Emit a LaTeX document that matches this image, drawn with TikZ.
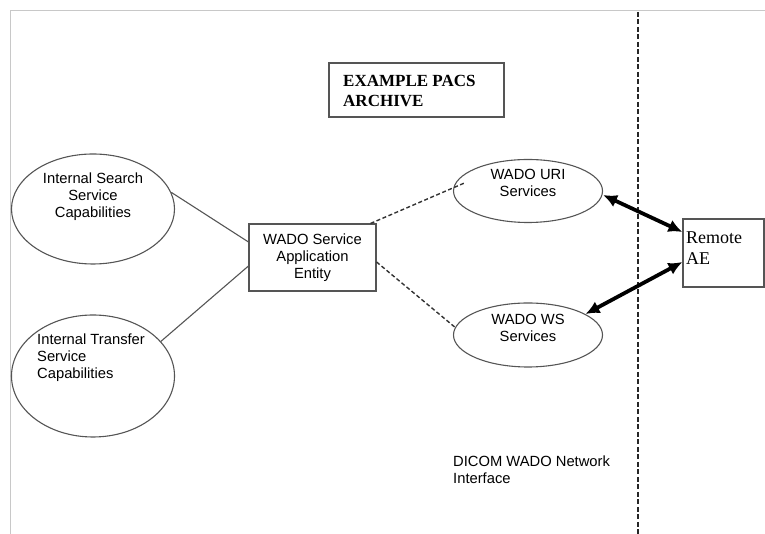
\documentclass[tikz,border=0pt]{standalone}
\usepackage{fontspec}
\setmainfont{Liberation Serif}
\newfontfamily\arialfont{Liberation Sans}
\usetikzlibrary{arrows.meta, positioning, shapes.geometric, calc}

\begin{document}
\begin{tikzpicture}[x=1pt, y=1pt,
  oval/.style={ellipse, draw=linegray, line width=1.1pt, inner sep=0pt},
  box/.style={draw=linegray, line width=1.1pt, inner sep=0pt},
  sanstext/.style={font=\arialfont\fontsize{14.75}{17}\selectfont, align=center, inner sep=0pt},
  solidlink/.style={draw=linegray, line width=1.1pt},
  dashlink/.style={draw=black!80, line width=1.4pt, dash pattern=on 4pt off 2.5pt},
  bigarrow/.style={{Latex[length=14pt,width=13pt]}-{Latex[length=14pt,width=13pt]}, line width=3.8pt}
]
  % Define colors
  \definecolor{linegray}{RGB}{85,85,85}
  \definecolor{framegray}{RGB}{200,200,200}

  \useasboundingbox (0,0) rectangle (765,534);

  % Page frame and network boundary
  \draw[framegray, line width=0.8pt] (765,524) -- (10,524) -- (10,0);
  \draw[black!85, line width=2pt, dash pattern=on 5pt off 2.5pt] (638,522) -- (638,0);

  % Title
  \node[box, minimum width=175, minimum height=54] (title) at (416.5,444) {};
  \node[anchor=west, align=left, inner sep=0pt,
        font=\fontsize{17}{20}\selectfont\bfseries] (titletxt) at (343,442.5) {EXAMPLE PACS\\ARCHIVE};

  % Internal capabilities
  \node[oval, minimum width=163, minimum height=110] (search) at (93,325) {};
  \node[sanstext] (searchtxt) at (93,337) {Internal Search\\Service\\Capabilities};

  \node[oval, minimum width=163, minimum height=122] (transfer) at (93,158) {};
  \node[sanstext, align=left, anchor=west] (transfertxt) at (37,176) {Internal Transfer\\Service\\Capabilities};

  % Application entity
  \node[box, sanstext, minimum width=127, minimum height=67] (wado) at (312.5,276.5) {WADO Service\\Application\\Entity};

  % WADO services
  \node[oval, minimum width=149, minimum height=63] (uri) at (528,343) {};
  \node[sanstext] (uritxt) at (528,351.5) {WADO URI\\Services};

  \node[oval, minimum width=149, minimum height=64] (ws) at (528,199) {};
  \node[sanstext] (wstxt) at (528,206.5) {WADO WS\\Services};

  % Remote AE
  \node[box, minimum width=81, minimum height=68] (remote) at (723.5,281) {};
  \node[anchor=west, align=left, inner sep=0pt,
        font=\fontsize{18}{21}\selectfont] (remotetxt) at (686,286) {Remote\\AE};

  % Interface label
  \node[sanstext, align=left, anchor=west] (ifacetxt) at (453,64) {DICOM WADO Network\\Interface};

  % Links
  \draw[solidlink] (search.12) -- ([yshift=15.5]wado.west);
  \draw[solidlink] (transfer.27) -- ([yshift=-8.5]wado.west);
  \draw[dashlink] ([xshift=-6]wado.north east) -- ([shift={(11.5,8)}]uri.west);
  \draw[dashlink] ([yshift=-4.5]wado.east) -- (ws.174);
  \draw[bigarrow] ([yshift=-4]uri.east) -- ([yshift=21]remote.west);
  \draw[bigarrow] (ws.20) -- ([yshift=-9]remote.west);

\end{tikzpicture}
\end{document}
